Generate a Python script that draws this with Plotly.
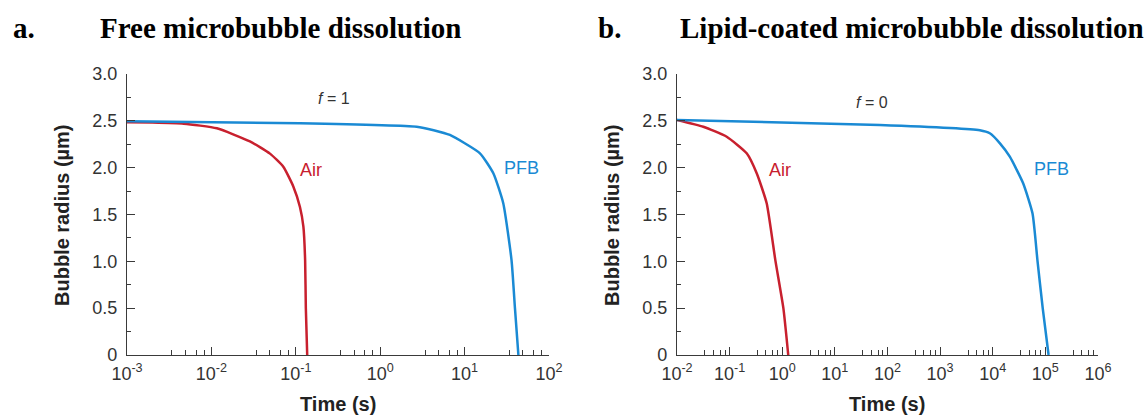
import plotly.graph_objects as go
import numpy as np

# ---------------- data ----------------
air_free_t = [1e-3, 2e-3, 4.7e-3, 0.0116, 0.0286, 0.0494, 0.0711, 0.0934, 0.112, 0.123, 0.129, 0.1315, 0.1365]
air_free_r = [2.485, 2.482, 2.47, 2.42, 2.28, 2.15, 2.01, 1.80, 1.58, 1.37, 1.01, 0.5, 0.0]

pfb_free_t = [1e-3, 0.112, 2.7, 4.3, 6.7, 15.2, 21.9, 28.7, 36.0, 39.5, 43.4]
pfb_free_r = [2.495, 2.474, 2.437, 2.40, 2.349, 2.153, 1.94, 1.62, 1.01, 0.5, 0.0]

air_lipid_t = [0.01, 0.0316, 0.088, 0.211, 0.327, 0.506, 0.74, 1.05, 1.30]
air_lipid_r = [2.51, 2.437, 2.33, 2.153, 1.94, 1.62, 1.01, 0.5, 0.0]

pfb_lipid_t = [0.01, 71.6, 5680, 8790, 13700, 21100, 37800, 57000, 71000, 89000, 115000]
pfb_lipid_r = [2.51, 2.455, 2.40, 2.367, 2.26, 2.117, 1.833, 1.51, 1.0, 0.5, 0.0]

y_ticks = [0, 0.5, 1.0, 1.5, 2.0, 2.5, 3.0]
y_ticktext = ["0", "0.5", "1.0", "1.5", "2.0", "2.5", "3.0"]
y_minor = [0.25, 0.75, 1.25, 1.75, 2.25, 2.75]

xa_exps = [-3, -2, -1, 0, 1, 2]
xb_exps = [-2, -1, 0, 1, 2, 3, 4, 5, 6]
minor_mult = [3.4, 4.9, 6.6, 8.2]

RED = "#C8202E"
BLUE = "#1A8AD4"
AX = "#3a3a3a"
TXT = "#333333"

W, H = 1147, 418
def px(x): return x / W
def py(y): return 1 - y / H

fig = go.Figure()
line_a = dict(width=2.5, shape="spline", smoothing=0.5)
fig.add_trace(go.Scatter(x=air_free_t, y=air_free_r, mode="lines", line=dict(line_a, color=RED), xaxis="x", yaxis="y", showlegend=False))
fig.add_trace(go.Scatter(x=pfb_free_t, y=pfb_free_r, mode="lines", line=dict(line_a, color=BLUE), xaxis="x", yaxis="y", showlegend=False))
fig.add_trace(go.Scatter(x=air_lipid_t, y=air_lipid_r, mode="lines", line=dict(line_a, color=RED), xaxis="x2", yaxis="y2", showlegend=False))
fig.add_trace(go.Scatter(x=pfb_lipid_t, y=pfb_lipid_r, mode="lines", line=dict(line_a, color=BLUE), xaxis="x2", yaxis="y2", showlegend=False))

tickfont = dict(family="Liberation Sans, Arial", size=18, color=TXT)

def xaxis(exps, domain, anchor):
    minor_vals = [m * 10.0 ** e for e in exps[:-1] for m in minor_mult]
    return dict(type="log", range=[exps[0], exps[-1]], domain=domain, anchor=anchor,
                automargin=False,
                showline=True, linecolor=AX, linewidth=1.3, showgrid=False, zeroline=False,
                tickmode="array", tickvals=[10.0 ** e for e in exps],
                ticktext=["10<sup>%d</sup>" % e for e in exps],
                ticks="inside", ticklen=8, tickwidth=1.2, tickcolor=AX,
                tickfont=tickfont, ticklabelstandoff=2,
                minor=dict(tickmode="array", tickvals=minor_vals, ticks="inside", ticklen=5,
                           tickwidth=1.2, tickcolor=AX, showgrid=False))

def yaxis(domain, anchor):
    return dict(range=[0, 3.0], domain=domain, anchor=anchor,
                automargin=False,
                showline=True, linecolor=AX, linewidth=1.3, showgrid=False, zeroline=False,
                tickmode="array", tickvals=y_ticks, ticktext=y_ticktext,
                ticks="inside", ticklen=8, tickwidth=1.2, tickcolor=AX,
                tickfont=tickfont, ticklabelstandoff=5,
                minor=dict(tickmode="array", tickvals=y_minor, ticks="inside", ticklen=4,
                           tickwidth=1.2, tickcolor=AX, showgrid=False))

ydom = [py(355), py(74)]
fig.update_layout(
    width=W, height=H, autosize=False,
    margin=dict(l=0, r=0, t=0, b=0),
    paper_bgcolor="white", plot_bgcolor="white",
    xaxis=xaxis(xa_exps, [px(127), px(549)], "y"),
    yaxis=yaxis(ydom, "x"),
    xaxis2=xaxis(xb_exps, [px(677), px(1098)], "y2"),
    yaxis2=yaxis(ydom, "x2"),
)

ann = []
title_font = dict(family="Liberation Serif, Times New Roman", size=29, color="#000000")
for x0, txt in [(11, "<b>a.</b>"), (98, "<b>Free microbubble dissolution</b>"),
                (596, "<b>b.</b>"), (678, "<b>Lipid-coated microbubble dissolution</b>")]:
    ann.append(dict(x=px(x0), y=py(28), xref="paper", yref="paper", text=txt, showarrow=False,
                    xanchor="left", yanchor="middle", font=title_font))

label_font = dict(family="Liberation Sans, Arial", size=20, color="#222222")
for xc in [62, 612]:
    ann.append(dict(x=px(xc), y=py(215), xref="paper", yref="paper", text="<b>Bubble radius (µm)</b>",
                    textangle=-90, showarrow=False, xanchor="center", yanchor="middle", font=label_font))
for xc in [338, 887]:
    ann.append(dict(x=px(xc), y=py(404), xref="paper", yref="paper", text="<b>Time (s)</b>",
                    showarrow=False, xanchor="center", yanchor="middle", font=label_font))

lf = dict(family="Liberation Sans, Arial", size=18)
ann += [
    dict(x=-0.82, y=1.975, xref="x", yref="y", text="Air", showarrow=False, font=dict(lf, color=RED)),
    dict(x=1.68, y=2.0, xref="x", yref="y", text="PFB", showarrow=False, font=dict(lf, color=BLUE)),
    dict(x=-0.55, y=2.74, xref="x", yref="y", text="<i>f</i> = 1", showarrow=False, font=dict(lf, size=16, color=TXT)),
    dict(x=-0.05, y=1.975, xref="x2", yref="y2", text="Air", showarrow=False, font=dict(lf, color=RED)),
    dict(x=5.11, y=1.985, xref="x2", yref="y2", text="PFB", showarrow=False, font=dict(lf, color=BLUE)),
    dict(x=1.70, y=2.70, xref="x2", yref="y2", text="<i>f</i> = 0", showarrow=False, font=dict(lf, size=16, color=TXT)),
]
fig.update_layout(annotations=ann)

fig.write_html("out.html")
